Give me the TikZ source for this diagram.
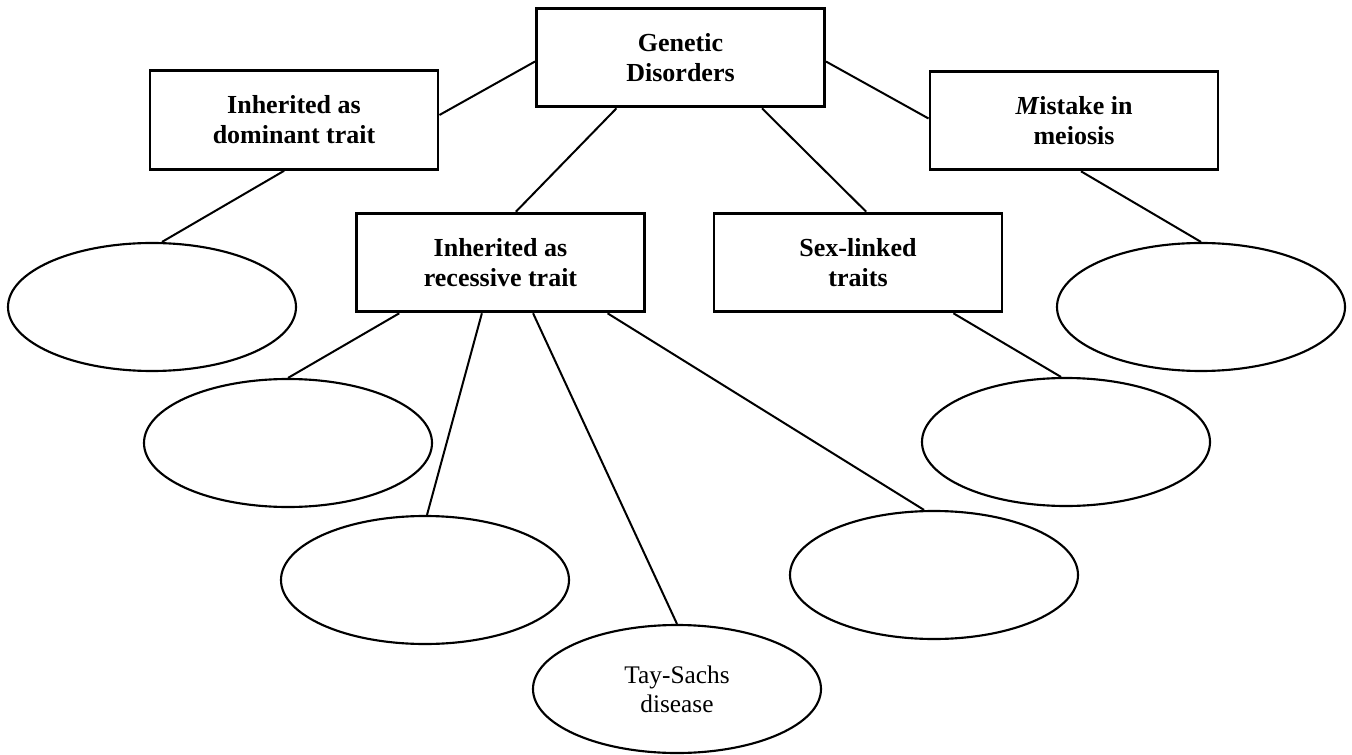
\documentclass[tikz,border=0pt]{standalone}
\usepackage{fontspec}
\setmainfont{Liberation Serif}
\usetikzlibrary{shapes.geometric,calc}
\tikzset{
  catbox/.style={draw, line width=2.2pt, rectangle, minimum width=216pt, minimum height=74pt,
    inner sep=0pt, align=center, font=\fontsize{19.5}{22.5}\selectfont\bfseries},
  blank/.style={draw, line width=1.6pt, ellipse, minimum width=216pt, minimum height=96pt,
    inner sep=0pt, align=center, font=\fontsize{19}{22}\selectfont},
  link/.style={line width=1.5pt}
}
\begin{document}
\begin{tikzpicture}[x=0.75pt,y=-0.75pt]
\useasboundingbox (0,0) rectangle (1352,755);
% boxes
\node[catbox] (gen) at (680.5,57.5) {Genetic\\Disorders};
\node[catbox] (dom) at (294,120) {Inherited as\\dominant trait};
\node[catbox] (mei) at (1074,120.5) {\textit{M}istake in\\meiosis};
\node[catbox] (rec) at (500.5,262.5) {Inherited as\\recessive trait};
\node[catbox] (sex) at (858,262.5) {Sex-linked\\traits};
% ellipses
\node[blank] (eL) at (152,307) {};
\node[blank] (eM) at (1201,307) {};
\node[blank] (e1) at (288,443) {};
\node[blank] (e2) at (425,580) {};
\node[blank] (eT) at (677,689) {Tay-Sachs\\disease};
\node[blank] (e4) at (934,575) {};
\node[blank] (eS) at (1066,442) {};
% anchor points on boxes
\coordinate (gW) at ($(gen.west)+(0,4)$);
\coordinate (gE) at ($(gen.east)+(0,4)$);
\coordinate (gS1) at ($(gen.south west)!0.28!(gen.south east)$);
\coordinate (gS2) at ($(gen.south west)!0.78!(gen.south east)$);
\coordinate (dE) at ($(dom.east)+(0,-5)$);
\coordinate (dS) at ($(dom.south west)!0.466!(dom.south east)$);
\coordinate (mW) at ($(mei.west)+(0,-2)$);
\coordinate (mS) at ($(mei.south west)!0.524!(mei.south east)$);
\coordinate (rN) at ($(rec.north west)!0.553!(rec.north east)$);
\coordinate (sN) at ($(sex.north west)!0.528!(sex.north east)$);
\coordinate (r1) at ($(rec.south west)!0.152!(rec.south east)$);
\coordinate (r2) at ($(rec.south west)!0.436!(rec.south east)$);
\coordinate (r3) at ($(rec.south west)!0.612!(rec.south east)$);
\coordinate (r4) at ($(rec.south west)!0.868!(rec.south east)$);
\coordinate (sS) at ($(sex.south west)!0.828!(sex.south east)$);
\coordinate (e4top) at ($(e4.north)+(-10,0)$);
\coordinate (eStop) at ($(eS.north)+(-5,0)$);
\coordinate (eLtop) at ($(eL.north)+(10,0)$);
\coordinate (e2top) at ($(e2.north)+(2,0)$);
% connectors
\draw[link] (gW) -- (dE);
\draw[link] (gE) -- (mW);
\draw[link] (gS1) -- (rN);
\draw[link] (gS2) -- (sN);
\draw[link] (dS) -- (eLtop);
\draw[link] (mS) -- (eM.north);
\draw[link] (r1) -- (e1.north);
\draw[link] (r2) -- (e2top);
\draw[link] (r3) -- (eT.north);
\draw[link] (r4) -- (e4top);
\draw[link] (sS) -- (eStop);
\end{tikzpicture}
\end{document}
